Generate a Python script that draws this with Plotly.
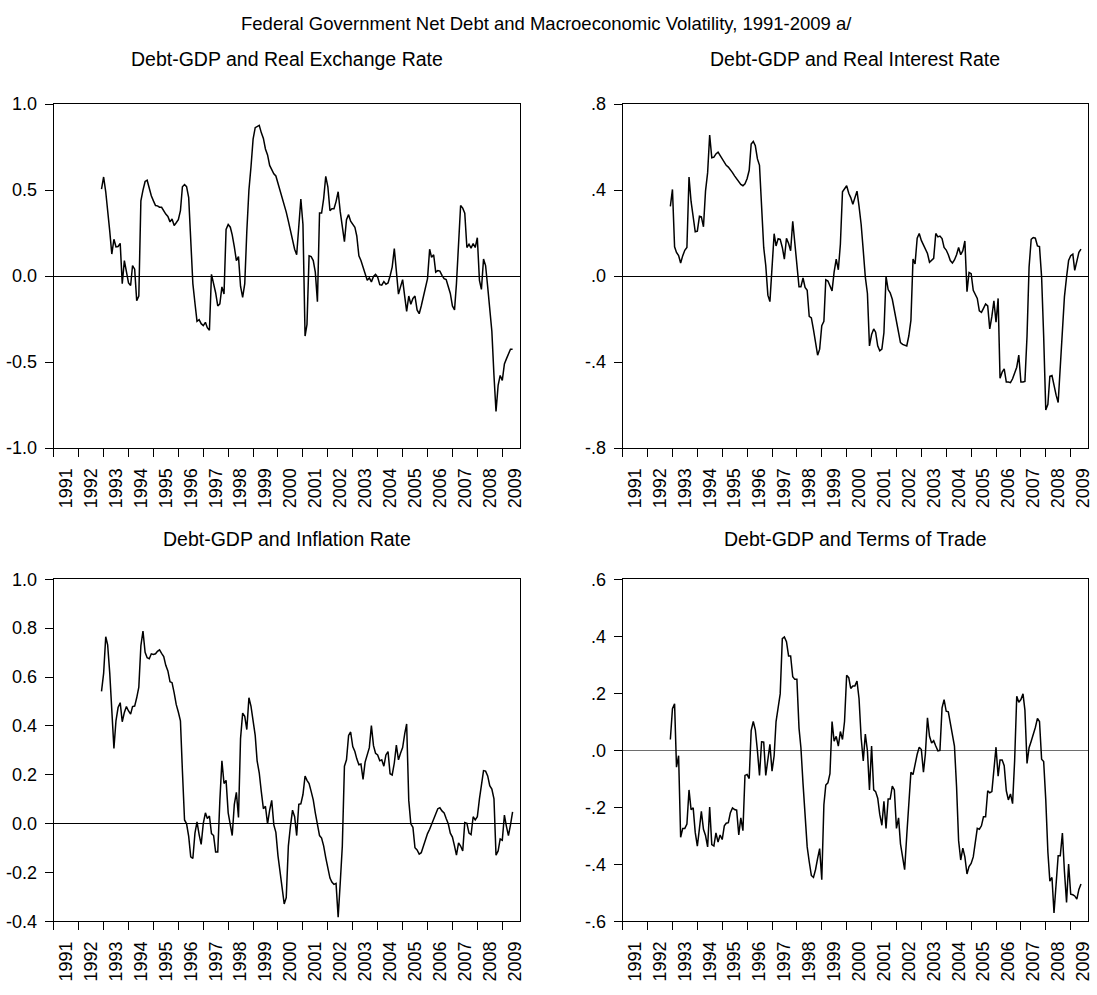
import pandas as pd
import plotly.graph_objects as go

# ---------------- data (monthly, Dec 1992 onward) ----------------
START = "1992-12-01"

rer = [0.506, 0.576, 0.49, 0.357, 0.26, 0.128, 0.214, 0.17, 0.172, 0.19,
       -0.044, 0.09, 0.023, -0.04, -0.055, 0.061, 0.04, -0.143, -0.116, 0.437,
       0.50, 0.55, 0.557, 0.51, 0.467, 0.437, 0.41, 0.408, 0.40, 0.40,
       0.376, 0.36, 0.347, 0.315, 0.332, 0.294, 0.31, 0.328, 0.38, 0.519,
       0.532, 0.52, 0.456, 0.204, -0.044, -0.158, -0.263, -0.254, -0.277, -0.288,
       -0.269, -0.30, -0.315, 0.01, -0.044, -0.097, -0.174, -0.162, -0.063, -0.105,
       0.271, 0.30, 0.284, 0.239, 0.17, 0.09, 0.113, -0.059, -0.124, -0.044,
       0.26, 0.50, 0.634, 0.796, 0.863, 0.868, 0.876, 0.834, 0.80, 0.739,
       0.704, 0.643, 0.62, 0.595, 0.582, 0.542, 0.50, 0.458, 0.418, 0.372,
       0.319, 0.261, 0.204, 0.156, 0.124, 0.28, 0.448, 0.30, -0.349, -0.282,
       0.118, 0.113, 0.09, 0.023, -0.149, 0.366, 0.366, 0.452, 0.58, 0.519,
       0.38, 0.391, 0.391, 0.433, 0.49, 0.376, 0.30, 0.20, 0.328, 0.357,
       0.319, 0.303, 0.284, 0.233, 0.118, 0.09, 0.055, 0.013, -0.025, -0.011,
       -0.034, -0.002, 0.01, -0.006, -0.05, -0.053, -0.032, -0.048, -0.04, 0.0,
       0.052, 0.16, 0.013, -0.105, -0.063, -0.021, -0.12, -0.206, -0.116, -0.164,
       -0.13, -0.116, -0.197, -0.219, -0.174, -0.12, -0.063, -0.015, 0.156, 0.109,
       0.124, 0.023, 0.032, 0.029, 0.004, -0.015, -0.021, -0.059, -0.101, -0.174,
       -0.197, -0.044, 0.166, 0.41, 0.395, 0.366, 0.166, 0.185, 0.162, 0.189,
       0.166, 0.223, -0.025, -0.078, 0.099, 0.061, -0.063, -0.197, -0.321, -0.578,
       -0.788, -0.635, -0.578, -0.607, -0.511, -0.483, -0.454, -0.426, -0.426]

rir = [0.324, 0.403, 0.136, 0.11, 0.095, 0.061, 0.095, 0.12, 0.133, 0.461,
       0.347, 0.285, 0.206, 0.209, 0.278, 0.275, 0.229, 0.395, 0.481, 0.656,
       0.55, 0.553, 0.568, 0.576, 0.56, 0.545, 0.53, 0.515, 0.507, 0.496,
       0.481, 0.466, 0.453, 0.438, 0.426, 0.42, 0.429, 0.453, 0.492, 0.614,
       0.626, 0.606, 0.545, 0.515, 0.301, 0.133, 0.049, -0.089, -0.119, 0.026,
       0.197, 0.14, 0.174, 0.171, 0.133, 0.079, 0.176, 0.151, 0.118, 0.255,
       0.148, 0.064, -0.05, -0.05, -0.009, -0.053, -0.066, -0.188, -0.195, -0.249,
       -0.31, -0.368, -0.34, -0.231, -0.211, -0.017, -0.023, -0.05, -0.069, 0.018,
       0.079, 0.029, 0.148, 0.392, 0.408, 0.42, 0.385, 0.365, 0.334, 0.37,
       0.395, 0.324, 0.24, 0.118, -0.005, -0.081, -0.325, -0.272, -0.246, -0.261,
       -0.325, -0.348, -0.34, -0.264, -0.002, -0.063, -0.078, -0.108, -0.157, -0.218,
       -0.267, -0.31, -0.318, -0.322, -0.325, -0.279, -0.206, 0.079, 0.056, 0.176,
       0.198, 0.166, 0.144, 0.13, 0.105, 0.064, 0.072, 0.082, 0.198, 0.182,
       0.186, 0.174, 0.133, 0.121, 0.099, 0.072, 0.061, 0.075, 0.099, 0.133,
       0.099, 0.118, 0.163, -0.073, 0.017, 0.011, -0.066, -0.084, -0.104, -0.162,
       -0.169, -0.15, -0.13, -0.139, -0.246, -0.188, -0.115, -0.215, -0.104, -0.475,
       -0.447, -0.432, -0.493, -0.493, -0.496, -0.478, -0.455, -0.424, -0.368, -0.493,
       -0.493, -0.49, -0.279, 0.041, 0.171, 0.179, 0.176, 0.14, 0.137, -0.005,
       -0.279, -0.623, -0.597, -0.466, -0.463, -0.516, -0.554, -0.588, -0.409, -0.249,
       -0.096, -0.005, 0.072, 0.095, 0.102, 0.026, 0.072, 0.11, 0.125]

infl = [0.541, 0.615, 0.765, 0.732, 0.615, 0.468, 0.308, 0.421, 0.475, 0.495,
        0.417, 0.455, 0.479, 0.461, 0.448, 0.479, 0.481, 0.515, 0.559, 0.728,
        0.788, 0.701, 0.679, 0.675, 0.695, 0.692, 0.695, 0.705, 0.711, 0.697,
        0.684, 0.648, 0.625, 0.581, 0.577, 0.535, 0.488, 0.457, 0.421, 0.215,
        0.015, -0.001, -0.052, -0.136, -0.143, -0.039, 0.007, -0.045, -0.085, 0.001,
        0.044, 0.021, 0.031, -0.041, -0.049, -0.116, -0.116, 0.095, 0.257, 0.164,
        0.177, 0.044, -0.012, -0.049, 0.079, 0.128, 0.025, 0.348, 0.452, 0.439,
        0.385, 0.515, 0.481, 0.428, 0.361, 0.257, 0.208, 0.132, 0.061, 0.071,
        -0.001, 0.055, 0.095, -0.005, -0.036, -0.132, -0.205, -0.279, -0.329, -0.303,
        -0.092, -0.012, 0.055, 0.028, -0.049, 0.079, 0.081, 0.119, 0.195, 0.177,
        0.164, 0.132, 0.097, 0.044, -0.005, -0.049, -0.059, -0.092, -0.139, -0.185,
        -0.223, -0.239, -0.249, -0.245, -0.383, -0.245, -0.092, 0.235, 0.261, 0.361,
        0.375, 0.315, 0.295, 0.265, 0.241, 0.244, 0.181, 0.252, 0.281, 0.311,
        0.401, 0.319, 0.288, 0.281, 0.257, 0.261, 0.235, 0.281, 0.295, 0.204,
        0.199, 0.248, 0.321, 0.261, 0.288, 0.311, 0.368, 0.408, 0.095, -0.001,
        -0.015, -0.099, -0.108, -0.125, -0.119, -0.092, -0.065, -0.041, -0.023, -0.001,
        0.015, 0.039, 0.061, 0.065, 0.052, 0.044, 0.021, -0.001, -0.039, -0.055,
        -0.092, -0.129, -0.079, -0.092, -0.112, 0.004, 0.001, -0.039, -0.045, 0.028,
        0.015, 0.028, 0.101, 0.161, 0.217, 0.215, 0.195, 0.155, 0.141, 0.101,
        -0.129, -0.112, -0.063, -0.068, 0.035, -0.009, -0.049, -0.005, 0.048]

tot = [0.038, 0.146, 0.163, -0.059, -0.019, -0.305, -0.274, -0.274, -0.259, -0.139,
       -0.208, -0.202, -0.288, -0.336, -0.274, -0.214, -0.277, -0.299, -0.339, -0.199,
       -0.331, -0.336, -0.29, -0.322, -0.297, -0.313, -0.265, -0.256, -0.254, -0.219,
       -0.202, -0.208, -0.21, -0.297, -0.237, -0.282, -0.088, -0.085, -0.099, 0.069,
       0.101, 0.072, -0.002, -0.088, 0.03, 0.029, -0.088, -0.025, 0.021, -0.073,
       -0.019, 0.101, 0.149, 0.198, 0.392, 0.398, 0.381, 0.331, 0.331, 0.258,
       0.249, 0.249, 0.078, 0.009, -0.117, -0.242, -0.339, -0.391, -0.439, -0.446,
       -0.419, -0.379, -0.345, -0.454, -0.191, -0.122, -0.114, -0.082, 0.101, 0.032,
       0.049, 0.015, 0.066, 0.038, 0.101, 0.263, 0.255, 0.217, 0.226, 0.226,
       0.243, 0.181, 0.043, -0.037, 0.057, -0.002, -0.139, 0.015, -0.139, -0.145,
       -0.168, -0.225, -0.263, -0.179, -0.274, -0.171, -0.171, -0.126, -0.139, -0.274,
       -0.237, -0.328, -0.374, -0.419, -0.299, -0.185, -0.077, -0.085, -0.048, -0.014,
       0.011, 0.003, -0.077, -0.014, 0.114, 0.049, 0.026, 0.034, 0.015, -0.002,
       0.0, 0.149, 0.178, 0.137, 0.135, 0.095, 0.055, 0.015, -0.128, -0.317,
       -0.385, -0.343, -0.374, -0.434, -0.408, -0.397, -0.374, -0.322, -0.274, -0.277,
       -0.265, -0.233, -0.233, -0.142, -0.149, -0.145, -0.077, 0.011, -0.091, -0.034,
       -0.034, -0.054, -0.142, -0.174, -0.153, -0.187, -0.037, 0.19, 0.169, 0.178,
       0.198, 0.141, -0.046, 0.009, 0.032, 0.055, 0.08, 0.112, 0.101, -0.031,
       -0.039, -0.174, -0.357, -0.459, -0.446, -0.571, -0.454, -0.37, -0.37, -0.29,
       -0.425, -0.534, -0.399, -0.505, -0.507, -0.511, -0.522, -0.488, -0.469]

main_title = "Federal Government Net Debt and Macroeconomic Volatility, 1991-2009 a/"
panel_titles = ["Debt-GDP and Real Exchange Rate", "Debt-GDP and Real Interest Rate",
                "Debt-GDP and Inflation Rate", "Debt-GDP and Terms of Trade"]

y1_vals = [-1.0, -0.5, 0.0, 0.5, 1.0]
y1_text = ["-1.0", "-0.5", "0.0", "0.5", "1.0"]
y2_vals = [-0.8, -0.4, 0.0, 0.4, 0.8]
y2_text = ["-.8", "-.4", ".0", ".4", ".8"]
y3_vals = [-0.4, -0.2, 0.0, 0.2, 0.4, 0.6, 0.8, 1.0]
y3_text = ["-0.4", "-0.2", "0.0", "0.2", "0.4", "0.6", "0.8", "1.0"]
y4_vals = [-0.6, -0.4, -0.2, 0.0, 0.2, 0.4, 0.6]
y4_text = ["-.6", "-.4", "-.2", ".0", ".2", ".4", ".6"]

X_RANGE = ["1991-01-01", "2009-09-12"]

# ---------------- figure ----------------
W, H = 1097, 995
FONT = "Liberation Sans, Arial, sans-serif"

panels = [
    dict(vals=rer, yr=[-1.0, 1.0], tv=y1_vals, tt=y1_text, px=(54, 522), py=(96, 447), zc="black", toff=46),
    dict(vals=rir, yr=[-0.8, 0.8], tv=y2_vals, tt=y2_text, px=(625.5, 1093), py=(96, 447), zc="black", toff=46),
    dict(vals=infl, yr=[-0.4, 1.0], tv=y3_vals, tt=y3_text, px=(54, 522), py=(581, 930), zc="black", toff=41.5),
    dict(vals=tot, yr=[-0.6, 0.6], tv=y4_vals, tt=y4_text, px=(625.5, 1093), py=(581, 930), zc="#6e6e6e", toff=41.5),
]

fig = go.Figure()
layout = dict(
    width=W, height=H, margin=dict(l=0, r=0, t=0, b=0),
    paper_bgcolor="white", plot_bgcolor="white", showlegend=False,
    font=dict(family=FONT, color="black", size=18),
)
annotations = [dict(text=main_title, x=0.5, y=1 - 13.5 / H, xref="paper", yref="paper",
                    xanchor="center", yanchor="middle", showarrow=False,
                    font=dict(family=FONT, size=18.5, color="black"))]

for i, p in enumerate(panels):
    k = "" if i == 0 else str(i + 1)
    dates = pd.date_range(START, periods=len(p["vals"]), freq="MS")
    fig.add_trace(go.Scatter(x=dates, y=p["vals"], mode="lines",
                             line=dict(color="black", width=1.5),
                             xaxis="x" + k, yaxis="y" + k, hoverinfo="skip"))
    xd = [p["px"][0] / W, p["px"][1] / W]
    yd = [1 - p["py"][1] / H, 1 - p["py"][0] / H]
    layout["xaxis" + k] = dict(
        domain=xd, anchor="y" + k, type="date", range=X_RANGE,
        tick0="1991-01-01", dtick="M12", tickformat="%Y", ticklabelmode="period",
        tickangle=-90, ticks="outside", ticklen=8, tickwidth=1, tickcolor="black",
        showline=True, linecolor="black", linewidth=1, mirror=True,
        showgrid=False, zeroline=False, tickfont=dict(family=FONT, size=18),
        ticklabelstandoff=4,
    )
    layout["yaxis" + k] = dict(
        domain=yd, anchor="x" + k, range=p["yr"], tickmode="array",
        tickvals=p["tv"], ticktext=p["tt"], ticks="outside", ticklen=8,
        tickwidth=1, tickcolor="black", showline=True, linecolor="black",
        linewidth=1, mirror=True, showgrid=False, zeroline=True,
        zerolinecolor=p["zc"], zerolinewidth=1, tickfont=dict(family=FONT, size=18),
        ticklabelstandoff=4,
    )
    cx = (p["px"][0] + p["px"][1]) / 2 / W
    cy = 1 - (p["py"][0] - p["toff"]) / H
    annotations.append(dict(text=panel_titles[i], x=cx, y=cy, xref="paper", yref="paper",
                            xanchor="center", yanchor="middle", showarrow=False,
                            font=dict(family=FONT, size=19.5, color="black")))

layout["annotations"] = annotations
fig.update_layout(**layout)
fig.write_html("out.html")
